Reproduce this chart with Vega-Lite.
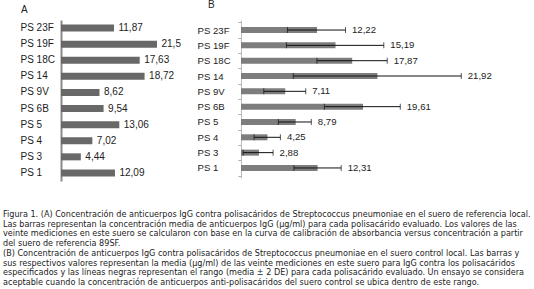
{
  "$schema": "https://vega.github.io/schema/vega-lite/v6.json",
  "padding": {"left": 3, "top": 0, "right": 2, "bottom": 2},
  "config": {
    "view": {"stroke": null},
    "font": "Liberation Sans",
    "concat": {"spacing": 11},
    "title": {"fontSize": 10, "fontWeight": "normal", "anchor": "start", "color": "#222", "offset": 5}
  },
  "title": {
    "text": [
      "Figura 1. (A) Concentración de anticuerpos IgG contra polisacáridos de Streptococcus pneumoniae en el suero de referencia local.",
      "Las barras representan la concentración media de anticuerpos IgG (µg/ml) para cada polisacárido evaluado. Los valores de las",
      "veinte mediciones en este suero se calcularon con base en la curva de calibración de absorbancia versus concentración a partir",
      "del suero de referencia 89SF.",
      "(B) Concentración de anticuerpos IgG contra polisacáridos de Streptococcus pneumoniae en el suero control local. Las barras y",
      "sus respectivos valores representan la media (µg/ml) de las veinte mediciones en este suero para IgG contra los polisacáridos",
      "especificados y las líneas negras representan el rango (media ± 2 DE) para cada polisacárido evaluado. Un ensayo se considera",
      "aceptable cuando la concentración de anticuerpos anti-polisacáridos del suero control se ubica dentro de este rango."
    ],
    "orient": "bottom",
    "anchor": "start",
    "offset": 30,
    "font": "DejaVu Sans",
    "fontSize": 8.1,
    "lineHeight": 9.7,
    "color": "#222"
  },
  "datasets": {
    "a": [
      {"ps": "PS 23F", "v": 11.87, "lbl": "11,87"},
      {"ps": "PS 19F", "v": 21.5, "lbl": "21,5"},
      {"ps": "PS 18C", "v": 17.63, "lbl": "17,63"},
      {"ps": "PS 14", "v": 18.72, "lbl": "18,72"},
      {"ps": "PS 9V", "v": 8.62, "lbl": "8,62"},
      {"ps": "PS 6B", "v": 9.54, "lbl": "9,54"},
      {"ps": "PS 5", "v": 13.06, "lbl": "13,06"},
      {"ps": "PS 4", "v": 7.02, "lbl": "7,02"},
      {"ps": "PS 3", "v": 4.44, "lbl": "4,44"},
      {"ps": "PS 1", "v": 12.09, "lbl": "12,09"}
    ],
    "b": [
      {"ps": "PS 23F", "v": 12.22, "lo": 7.46, "hi": 16.8, "lbl": "12,22"},
      {"ps": "PS 19F", "v": 15.19, "lo": 7.3, "hi": 22.95, "lbl": "15,19"},
      {"ps": "PS 18C", "v": 17.87, "lo": 12.2, "hi": 23.5, "lbl": "17,87"},
      {"ps": "PS 14", "v": 21.92, "lo": 8.4, "hi": 35.4, "lbl": "21,92"},
      {"ps": "PS 9V", "v": 7.11, "lo": 3.66, "hi": 10.4, "lbl": "7,11"},
      {"ps": "PS 6B", "v": 19.61, "lo": 13.4, "hi": 25.6, "lbl": "19,61"},
      {"ps": "PS 5", "v": 8.79, "lo": 6.0, "hi": 11.3, "lbl": "8,79"},
      {"ps": "PS 4", "v": 4.25, "lo": 2.1, "hi": 6.33, "lbl": "4,25"},
      {"ps": "PS 3", "v": 2.88, "lo": 0.34, "hi": 5.16, "lbl": "2,88"},
      {"ps": "PS 1", "v": 12.31, "lo": 8.5, "hi": 16.1, "lbl": "12,31"}
    ]
  },
  "hconcat": [
    {
      "title": {"text": "A", "dx": 18},
      "width": 125,
      "height": 161,
      "data": {"name": "a"},
      "encoding": {
        "y": {
          "field": "ps", "type": "nominal", "sort": null,
          "scale": {"paddingInner": 0, "paddingOuter": 0},
          "axis": {"title": " ", "titleFontSize": 1, "titlePadding": 16, "ticks": false, "labelAlign": "left", "labelPadding": 41, "labelFontSize": 10, "labelColor": "#222", "domainColor": "#8a8a8a", "domainWidth": 2}
        }
      },
      "layer": [
        {
          "mark": {"type": "bar", "height": 7, "color": "#686868"},
          "encoding": {"x": {"field": "v", "type": "quantitative", "scale": {"domain": [0, 27.65]}, "axis": null}}
        },
        {
          "mark": {"type": "text", "align": "left", "dx": 4.5, "fontSize": 10, "color": "#222"},
          "encoding": {"x": {"field": "v", "type": "quantitative"}, "text": {"field": "lbl"}}
        }
      ]
    },
    {
      "title": {"text": "B", "dx": 11},
      "width": 280,
      "height": 158,
      "data": {"name": "b"},
      "encoding": {
        "y": {
          "field": "ps", "type": "nominal", "sort": null,
          "scale": {"paddingInner": 0, "paddingOuter": 0.155},
          "axis": {"title": null, "ticks": true, "tickSize": 3, "tickBand": "extent", "tickColor": "#aaa", "labelAlign": "left", "labelPadding": 41, "labelFontSize": 9.6, "labelColor": "#222", "domainColor": "#bbb", "domainWidth": 1}
        }
      },
      "layer": [
        {
          "mark": {"type": "bar", "height": 6, "color": "#7d7d7d"},
          "encoding": {"x": {"field": "v", "type": "quantitative", "scale": {"domain": [0, 41.1]}, "axis": null}}
        },
        {
          "mark": {"type": "rule", "color": "#111", "strokeWidth": 1},
          "encoding": {"x": {"field": "lo", "type": "quantitative"}, "x2": {"field": "hi"}}
        },
        {
          "mark": {"type": "tick", "color": "#111", "thickness": 1, "size": 6},
          "encoding": {"x": {"field": "lo", "type": "quantitative"}}
        },
        {
          "mark": {"type": "tick", "color": "#111", "thickness": 1, "size": 6},
          "encoding": {"x": {"field": "hi", "type": "quantitative"}}
        },
        {
          "mark": {"type": "text", "align": "left", "dx": 6.5, "fontSize": 9.6, "color": "#222"},
          "encoding": {"x": {"field": "hi", "type": "quantitative"}, "text": {"field": "lbl"}}
        }
      ]
    }
  ]
}
